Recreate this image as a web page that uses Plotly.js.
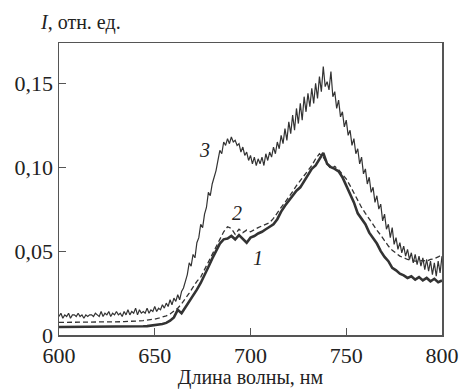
<!DOCTYPE html>
<html><head><meta charset="utf-8">
<script src="https://cdn.plot.ly/plotly-3.0.1.min.js"></script>
</head><body style="margin:0;background:#fff">
<div id="c" style="width:462px;height:389px"></div>
<script>
var xStep1 = [];
for (var w = 600; w <= 800; w += 1) xStep1.push(w);
var xStep2 = [];
for (var w2 = 600; w2 <= 800; w2 += 2) xStep2.push(w2);

var curve3 = [
0.011,0.013,0.010,0.012,0.011,0.013,0.010,0.012,0.012,0.011,
0.013,0.011,0.012,0.010,0.012,0.011,0.012,0.012,0.011,0.013,
0.012,0.011,0.014,0.011,0.013,0.012,0.014,0.011,0.013,0.012,
0.014,0.012,0.013,0.011,0.014,0.012,0.015,0.012,0.014,0.013,
0.016,0.012,0.015,0.013,0.014,0.013,0.016,0.013,0.015,0.014,
0.017,0.014,0.016,0.015,0.018,0.016,0.019,0.017,0.021,0.018,
0.022,0.020,0.024,0.021,0.026,0.028,0.032,0.036,0.043,0.041,
0.048,0.046,0.055,0.058,0.066,0.064,0.072,0.076,0.085,0.083,
0.090,0.094,0.098,0.104,0.110,0.108,0.115,0.113,0.117,0.114,
0.118,0.115,0.116,0.113,0.114,0.109,0.112,0.107,0.109,0.104,
0.107,0.102,0.106,0.101,0.105,0.102,0.106,0.101,0.108,0.104,
0.109,0.106,0.112,0.108,0.115,0.111,0.119,0.114,0.123,0.116,
0.127,0.120,0.131,0.122,0.135,0.126,0.138,0.128,0.142,0.133,
0.144,0.136,0.147,0.138,0.150,0.141,0.154,0.145,0.160,0.148,
0.151,0.146,0.157,0.142,0.145,0.135,0.140,0.130,0.133,0.124,
0.128,0.119,0.122,0.113,0.117,0.108,0.111,0.102,0.106,0.096,
0.099,0.090,0.094,0.085,0.088,0.079,0.083,0.075,0.078,0.068,
0.072,0.063,0.066,0.058,0.064,0.054,0.058,0.051,0.055,0.049,
0.053,0.047,0.051,0.045,0.049,0.043,0.048,0.042,0.047,0.041,
0.046,0.039,0.045,0.038,0.044,0.036,0.043,0.035,0.044,0.037,
0.047];

var curve1 = [
0.0048,0.0048,0.0048,0.0048,0.0048,0.0048,0.0049,0.0049,0.0049,0.0049,
0.0049,0.0049,0.0049,0.0049,0.0049,0.0050,0.0050,0.0050,0.0050,0.0050,
0.0050,0.0051,0.0052,0.0053,0.0055,0.0058,0.0061,0.0065,0.0072,0.0085,
0.0105,0.0150,0.0130,0.0165,0.0195,0.0230,0.0270,0.0310,0.0355,0.0405,
0.0455,0.0500,0.0545,0.0570,0.0575,0.0590,0.0570,0.0595,0.0570,0.0550,
0.0580,0.0590,0.0605,0.0615,0.0630,0.0645,0.0660,0.0690,0.0735,0.0770,
0.0800,0.0835,0.0860,0.0880,0.0915,0.0950,0.0990,0.1010,0.1050,0.1085,
0.1020,0.1000,0.0990,0.0975,0.0940,0.0890,0.0845,0.0790,0.0725,0.0690,
0.0660,0.0610,0.0580,0.0545,0.0500,0.0465,0.0440,0.0400,0.0385,0.0365,
0.0355,0.0340,0.0350,0.0330,0.0345,0.0325,0.0340,0.0320,0.0335,0.0315,
0.0325];

var curve2 = [
0.0075,0.0075,0.0075,0.0076,0.0076,0.0076,0.0076,0.0077,0.0077,0.0077,
0.0077,0.0078,0.0078,0.0078,0.0078,0.0078,0.0079,0.0080,0.0080,0.0081,
0.0082,0.0084,0.0086,0.0088,0.0091,0.0095,0.0100,0.0105,0.0114,0.0125,
0.0140,0.0160,0.0185,0.0215,0.0250,0.0285,0.0320,0.0345,0.0390,0.0430,
0.0480,0.0520,0.0565,0.0615,0.0645,0.0635,0.0600,0.0630,0.0610,0.0625,
0.0615,0.0630,0.0640,0.0650,0.0660,0.0670,0.0695,0.0730,0.0760,0.0790,
0.0820,0.0855,0.0890,0.0920,0.0950,0.0985,0.1010,0.1050,0.1080,0.1060,
0.1020,0.0990,0.1005,0.0985,0.0960,0.0930,0.0890,0.0845,0.0800,0.0760,
0.0725,0.0690,0.0655,0.0625,0.0595,0.0560,0.0530,0.0505,0.0485,0.0470,
0.0460,0.0450,0.0445,0.0440,0.0440,0.0445,0.0440,0.0450,0.0455,0.0465,
0.0480];

var xTickVals = [600, 650, 700, 750, 800];
var yTickVals = [0, 0.05, 0.10, 0.15];
var yTickText = ['0', '0,05', '0,10', '0,15'];
var curveLabels = ['3', '2', '1'];
var curveLabelX = [676, 693, 704];
var curveLabelY = [0.110, 0.0726, 0.046];

var ink = '#333';
var serif = 'Times New Roman';

var traces = [
  {x: xStep1, y: curve3, mode: 'lines', line: {color: ink, width: 1.2}, hoverinfo: 'skip'},
  {x: xStep2, y: curve2, mode: 'lines', line: {color: ink, width: 1.3, dash: '5px,3px'}, hoverinfo: 'skip'},
  {x: xStep2, y: curve1, mode: 'lines', line: {color: ink, width: 2.6}, hoverinfo: 'skip'}
];

var pw = 462 - 59 - 20, ph = 389 - 43 - 54;
var ann = [];
for (var i = 0; i < curveLabels.length; i++) {
  ann.push({x: curveLabelX[i], y: curveLabelY[i], xref: 'x', yref: 'y', text: '<i>' + curveLabels[i] + '</i>',
    showarrow: false, font: {family: serif, size: 20, color: '#222'}});
}
ann.push({x: (38 - 59) / pw, y: (389 - 54 - 22) / ph, xref: 'paper', yref: 'paper', text: '<i>I</i>, отн. ед.', showarrow: false,
  xanchor: 'left', yanchor: 'middle', font: {family: serif, size: 20, color: '#222'}});

var layout = {
  width: 462, height: 389,
  margin: {l: 59, r: 20, t: 43, b: 54},
  paper_bgcolor: '#fff', plot_bgcolor: '#fff',
  showlegend: false,
  xaxis: {range: [600, 800], tickvals: xTickVals, ticks: 'inside', ticklen: 7, tickcolor: '#555',
    showline: true, linecolor: '#555', linewidth: 1.5, mirror: true, showgrid: false, zeroline: false,
    tickfont: {family: serif, size: 22, color: '#222'},
    title: {text: 'Длина волны, нм', font: {family: serif, size: 20, color: '#222'}, standoff: 2}},
  yaxis: {range: [0, 0.174], tickvals: yTickVals, ticktext: yTickText, ticks: 'inside', ticklen: 7, tickcolor: '#555',
    showline: true, linecolor: '#555', linewidth: 1.5, mirror: true, showgrid: false, zeroline: false,
    tickfont: {family: serif, size: 22, color: '#222'}},
  annotations: ann
};

Plotly.newPlot('c', traces, layout, {staticPlot: true, displayModeBar: false});
</script></body></html>
